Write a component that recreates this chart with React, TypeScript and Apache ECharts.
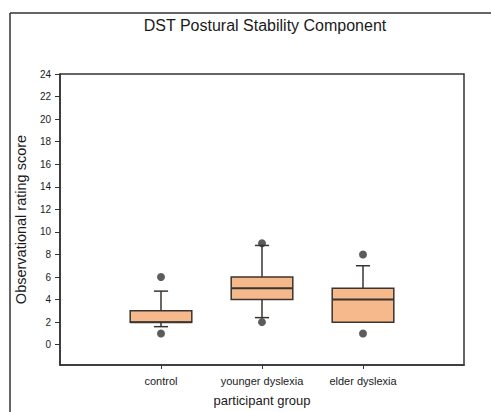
import React, { useEffect, useRef } from "react";
import * as echarts from "echarts";

const categories = ["control", "younger dyslexia", "elder dyslexia"];
const whiskerLow = [1.6, 2.4, 2];
const q1 = [2, 4, 2];
const median = [2, 5, 4];
const q3 = [3, 6, 5];
const whiskerHigh = [4.75, 8.8, 7];
const outlierGroup = [1, 1, 2, 2, 3, 3];
const outlierValue = [6, 1, 9, 2, 8, 1];
const yTicks = [0, 2, 4, 6, 8, 10, 12, 14, 16, 18, 20, 22, 24];
const xTicks = [1, 2, 3];

const FONT = "'Liberation Sans', Arial, sans-serif";

export default function App() {
  const ref = useRef<HTMLDivElement>(null);
  useEffect(() => {
    if (!ref.current) return;
    const chart = echarts.init(ref.current, null, { renderer: "svg" });
    const boxData = categories.map((_, i) => [
      i + 1,
      whiskerLow[i],
      q1[i],
      median[i],
      q3[i],
      whiskerHigh[i],
    ]);
    const outlierData = outlierGroup.map((g, i) => [g, outlierValue[i]]);
    chart.setOption({
      animation: false,
      backgroundColor: "#ffffff",
      textStyle: { fontFamily: FONT },
      title: {
        text: "DST Postural Stability Component",
        left: 260,
        top: 12,
        textAlign: "center",
        textStyle: { fontFamily: FONT, fontSize: 16, fontWeight: "normal", color: "#1a1a1a" },
      },
      graphic: [
        { type: "line", shape: { x1: 10, y1: 13, x2: 10, y2: 412 }, style: { stroke: "#333", lineWidth: 1.5 } },
        { type: "line", shape: { x1: 10, y1: 13, x2: 491, y2: 13 }, style: { stroke: "#333", lineWidth: 1.5 } },
      ],
      grid: {
        left: 60,
        top: 74,
        right: 27,
        bottom: 46,
        show: true,
        borderColor: "#333",
        borderWidth: 1.5,
        backgroundColor: "transparent",
      },
      xAxis: {
        type: "value",
        min: 0,
        max: 4,
        name: "participant group",
        nameLocation: "middle",
        nameGap: 29,
        nameTextStyle: { fontFamily: FONT, fontSize: 13, color: "#1a1a1a" },
        splitLine: { show: false },
        axisLine: { show: true, onZero: false, lineStyle: { color: "#333", width: 1.5 } },
        axisTick: { show: true, length: 4, customValues: xTicks, lineStyle: { color: "#333" } },
        axisLabel: {
          customValues: xTicks,
          margin: 10,
          fontFamily: FONT,
          fontSize: 11,
          color: "#1a1a1a",
          formatter: (v: number) => categories[Math.round(v) - 1] ?? "",
        },
      },
      yAxis: {
        type: "value",
        min: -1.8,
        max: 24,
        name: "Observational rating score",
        nameLocation: "middle",
        nameGap: 30,
        nameTextStyle: { fontFamily: FONT, fontSize: 14.5, color: "#1a1a1a", padding: [0, 0, 0, 0] },
        splitLine: { show: false },
        axisLine: { show: true, onZero: false, lineStyle: { color: "#333", width: 1.5 } },
        axisTick: { show: true, length: 5, customValues: yTicks, lineStyle: { color: "#333" } },
        axisLabel: {
          customValues: yTicks,
          margin: 9,
          fontFamily: FONT,
          fontSize: 10,
          color: "#1a1a1a",
        },
      },
      series: [
        {
          type: "custom",
          data: boxData,
          encode: { x: 0, y: [1, 2, 3, 4, 5] },
          renderItem: (params: any, api: any) => {
            const x = api.value(0);
            const pLo = api.coord([x, api.value(1)]);
            const pQ1 = api.coord([x, api.value(2)]);
            const pMed = api.coord([x, api.value(3)]);
            const pQ3 = api.coord([x, api.value(4)]);
            const pHi = api.coord([x, api.value(5)]);
            const unit = api.size([1, 0])[0];
            const bw = unit * 0.61;
            const cw = unit * 0.14;
            const cx = pMed[0];
            const lineStyle = { stroke: "#3a3530", lineWidth: 1.5 };
            return {
              type: "group",
              children: [
                { type: "line", shape: { x1: cx, y1: pQ3[1], x2: cx, y2: pHi[1] }, style: lineStyle },
                { type: "line", shape: { x1: cx, y1: pQ1[1], x2: cx, y2: pLo[1] }, style: lineStyle },
                { type: "line", shape: { x1: cx - cw / 2, y1: pHi[1], x2: cx + cw / 2, y2: pHi[1] }, style: lineStyle },
                { type: "line", shape: { x1: cx - cw / 2, y1: pLo[1], x2: cx + cw / 2, y2: pLo[1] }, style: lineStyle },
                {
                  type: "rect",
                  shape: { x: cx - bw / 2, y: pQ3[1], width: bw, height: pQ1[1] - pQ3[1] },
                  style: { fill: "#f6b98b", stroke: "#3a3530", lineWidth: 1.5 },
                },
                { type: "line", shape: { x1: cx - bw / 2, y1: pMed[1], x2: cx + bw / 2, y2: pMed[1] }, style: { stroke: "#3a3530", lineWidth: 2 } },
              ],
            };
          },
          z: 2,
        },
        {
          type: "scatter",
          data: outlierData,
          symbol: "circle",
          symbolSize: 8,
          itemStyle: { color: "#333" },
          z: 3,
        },
      ],
    });
    return () => chart.dispose();
  }, []);
  return (
    <div
      ref={ref}
      style={{ position: "fixed", left: 0, top: 0, width: 491, height: 412 }}
    />
  );
}
